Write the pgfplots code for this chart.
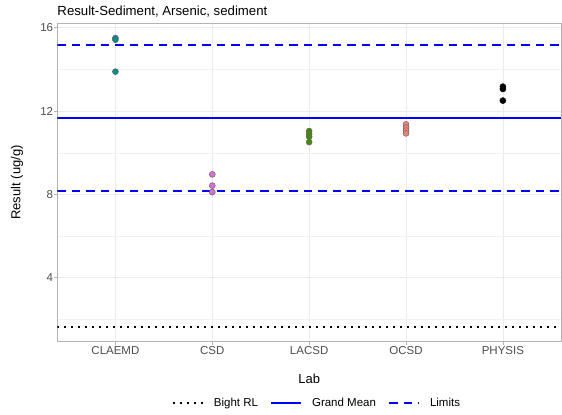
\documentclass[border=0pt]{standalone}
\usepackage{pgfplots}
\pgfplotsset{compat=1.18}
\usepackage{fontspec}
\setmainfont{Liberation Sans}
\definecolor{teal1}{HTML}{008B8B}
\definecolor{orch}{HTML}{DA70D6}
\definecolor{grn}{HTML}{458B00}
\definecolor{salm}{HTML}{FA8072}
\definecolor{gridc}{HTML}{EBEBEB}
\definecolor{bord}{HTML}{B3B3B3}
\definecolor{tickl}{HTML}{4D4D4D}
\begin{document}
\begin{tikzpicture}
\begin{axis}[
  name=ax,
  scale only axis, width=503.7bp, height=318.4bp,
  xmin=-0.6, xmax=4.6, ymin=0.93, ymax=16.21,
  xtick={0,1,2,3,4}, xticklabels={CLAEMD,CSD,LACSD,OCSD,PHYSIS},
  ytick={4,8,12,16}, minor ytick={2,6,10,14},
  grid=both,
  major grid style={gridc, line width=0.7bp},
  minor grid style={gridc!70, line width=0.4bp},
  axis line style={bord, line width=0.9bp},
  tick align=outside, major tick length=3bp, minor tick length=0pt,
  tick style={bord, line width=0.6bp},
  xtick pos=bottom, ytick pos=left,
  /pgf/number format/assume math mode=true,
  tick label style={font=\fontsize{11.5bp}{13bp}\selectfont, text=tickl},
  yticklabel style={inner sep=1bp},
  xticklabel style={inner sep=2bp},
  title={Result-Sediment, Arsenic, sediment},
  title style={at={(axis description cs:0,1)}, anchor=base west, yshift=1.6bp, inner sep=0pt, font=\fontsize{13.2bp}{15bp}\selectfont},
  xlabel={Lab},
  xlabel style={at={(axis description cs:0.5,-0.1297)}, anchor=base, inner sep=0pt, font=\fontsize{13bp}{15bp}\selectfont},
  ylabel={Result (ug/g)},
  ylabel style={at={(axis description cs:-0.08,0.5)}, anchor=center, inner sep=0pt, font=\fontsize{13bp}{15bp}\selectfont},
  legend style={at={(axis description cs:0.5136,-0.1916)}, anchor=center, draw=none, fill=none,
    legend columns=3, font=\fontsize{11.5bp}{13bp}\selectfont,
    nodes={inner sep=0pt},
    /tikz/every even column/.append style={column sep=12bp},
    /tikz/every odd column/.append style={column sep=10bp}},
  legend image code/.code={\draw[#1] (0bp,0bp) -- (30bp,0bp);},
  clip=true,
]
\addplot[black, line width=2bp, dash pattern=on 1.8bp off 5.2bp] coordinates {(-0.6,1.62) (4.6,1.62)};
\addlegendentry{Bight RL}
\addplot[blue, line width=2bp] coordinates {(-0.6,11.65) (4.6,11.65)};
\addlegendentry{Grand Mean}
\addplot[blue, line width=2bp, dash pattern=on 8.5bp off 6bp] coordinates {(-0.6,15.16) (4.6,15.16)};
\addlegendentry{Limits}
\addplot[forget plot, blue, line width=2bp, dash pattern=on 8.5bp off 6bp] coordinates {(-0.6,8.18) (4.6,8.18)};
\addplot[forget plot, only marks, mark=*, mark size=3bp, mark options={fill=teal1, draw=black!60, line width=0.5bp}] coordinates {(0,15.50) (0,15.42) (0,13.89)};
\addplot[forget plot, only marks, mark=*, mark size=3bp, mark options={fill=orch, draw=black!60, line width=0.5bp}] coordinates {(1,8.96) (1,8.42) (1,8.11)};
\addplot[forget plot, only marks, mark=*, mark size=3bp, mark options={fill=grn, draw=black!60, line width=0.5bp}] coordinates {(2,11.04) (2,10.90) (2,10.77) (2,10.51)};
\addplot[forget plot, only marks, mark=*, mark size=3bp, mark options={fill=salm, draw=black!60, line width=0.5bp}] coordinates {(3,11.36) (3,11.20) (3,11.06) (3,10.93)};
\addplot[forget plot, only marks, mark=*, mark size=3bp, mark options={fill=black, draw=black, line width=0.5bp}] coordinates {(4,13.17) (4,13.06) (4,12.50)};
\end{axis}
\pgfresetboundingbox
\path[use as bounding box] ([shift={(-57.3bp,-72.3bp)}]ax.south west) rectangle ([shift={(1bp,23.3bp)}]ax.north east);
\end{tikzpicture}
\end{document}
